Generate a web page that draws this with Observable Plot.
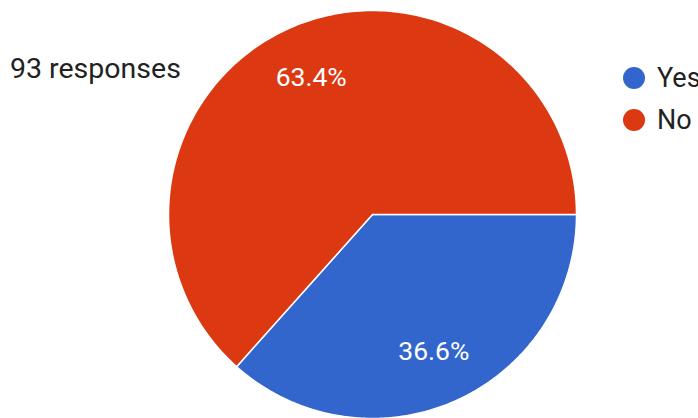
<!DOCTYPE html>
<html>
<head>
<meta charset="utf-8">
<script src="https://cdn.jsdelivr.net/npm/d3@7"></script>
<script src="https://cdn.jsdelivr.net/npm/@observablehq/plot@0.6"></script>
<style>
  html, body { margin: 0; padding: 0; background: #fff; }
  #wrap { position: relative; width: 698px; height: 418px; overflow: hidden; font-family: Roboto, "Noto Sans", sans-serif; }
  #title { position: absolute; left: 10px; top: 55px; font-size: 28.5px; line-height: 28.5px; color: #222; white-space: nowrap; }
  #legend { position: absolute; left: 623px; top: 57px; font-size: 27px; color: #222; }
  .item { display: flex; align-items: center; height: 42px; white-space: nowrap; }
  .sw { width: 22px; height: 22px; border-radius: 50%; margin-right: 12px; flex: none; }
</style>
</head>
<body>
<div id="wrap">
  <div id="chart"></div>
  <div id="title"></div>
  <div id="legend"></div>
</div>
<script>
const categories = ["Yes", "No"];
const values = [36.6, 63.4];
const colors = ["#3366cc", "#dc3912"];
const titleText = "93 responses";

const total = d3.sum(values);
const cx = 372, cy = 214, R = 204;

// angles clockwise from east (Google charts style starts at 3 o'clock)
let acc = 0;
const slices = categories.map((c, i) => {
  const a0 = acc / total * 2 * Math.PI;
  acc += values[i];
  const a1 = acc / total * 2 * Math.PI;
  return {category: c, value: values[i], a0, a1};
});

const pts = [];
for (const s of slices) {
  pts.push({category: s.category, x: 0, y: 0});
  const n = 200;
  for (let k = 0; k <= n; k++) {
    const t = s.a0 + (s.a1 - s.a0) * k / n;
    pts.push({category: s.category, x: Math.cos(t), y: -Math.sin(t)});
  }
  pts.push({category: s.category, x: 0, y: 0});
}

const labels = slices.map(s => {
  const m = (s.a0 + s.a1) / 2;
  return {text: s.value.toFixed(1) + "%", x: 0.735 * Math.cos(m), y: -0.735 * Math.sin(m)};
});

const plot = Plot.plot({
  width: 698,
  height: 418,
  margin: 0,
  x: {type: "linear", domain: [-1, 1], range: [cx - R, cx + R], axis: null},
  y: {type: "linear", domain: [-1, 1], range: [cy + R, cy - R], axis: null},
  color: {domain: categories, range: colors},
  style: {background: "#fff", overflow: "visible"},
  marks: [
    Plot.line(pts, {x: "x", y: "y", z: "category", fill: "category", stroke: "#fff", strokeWidth: 1.5, strokeLinejoin: "round", curve: "linear"}),
    Plot.text(labels, {x: "x", y: "y", text: "text", fill: "#fff", fontSize: 26.5, fontFamily: "Roboto, 'Noto Sans', sans-serif"})
  ]
});
document.getElementById("chart").appendChild(plot);

document.getElementById("title").textContent = titleText;
const leg = document.getElementById("legend");
categories.forEach((c, i) => {
  const it = document.createElement("div");
  it.className = "item";
  const sw = document.createElement("span");
  sw.className = "sw";
  sw.style.background = colors[i];
  const tx = document.createElement("span");
  tx.textContent = c;
  it.appendChild(sw); it.appendChild(tx);
  leg.appendChild(it);
});
</script>
</body>
</html>
